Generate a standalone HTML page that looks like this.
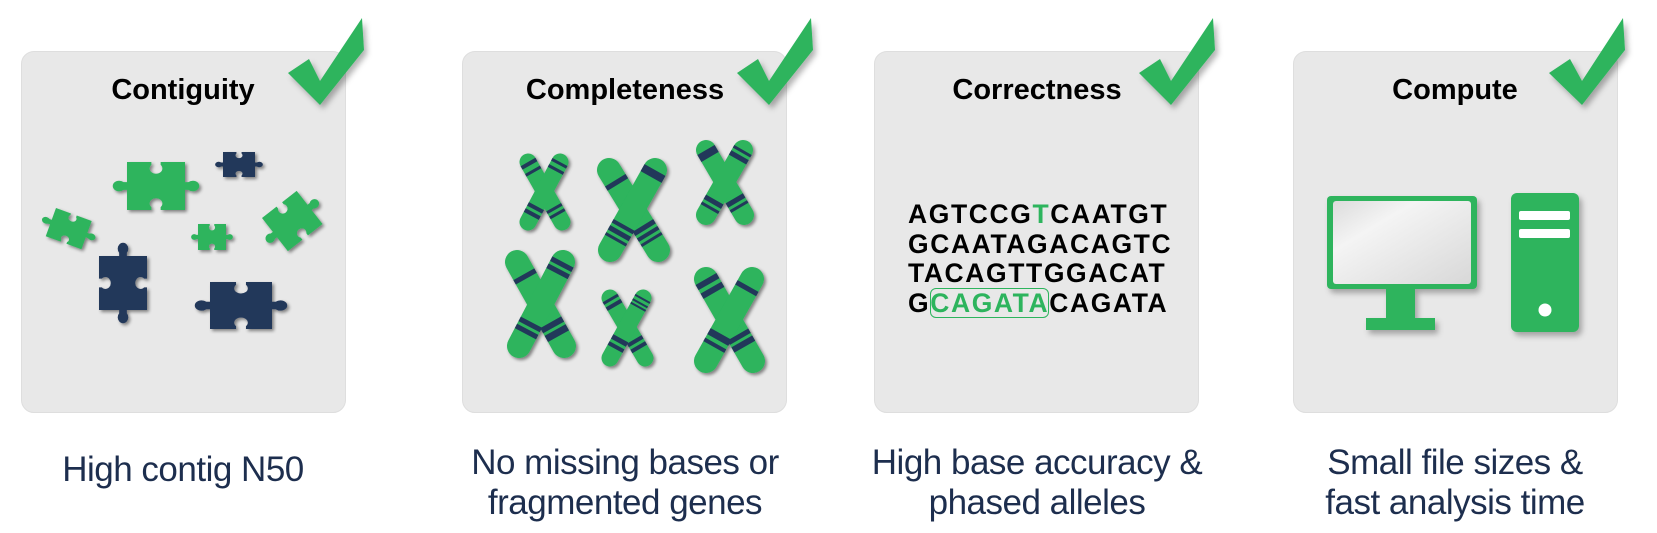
<!DOCTYPE html>
<html><head><meta charset="utf-8"><style>
html,body{margin:0;padding:0;background:#fff;}
body{width:1657px;height:533px;position:relative;overflow:hidden;font-family:"Liberation Sans",sans-serif;}
.box{position:absolute;top:51px;width:325px;height:362px;background:#e8e8e8;border:1px solid #dedede;border-radius:13px;box-sizing:border-box;}
.title{position:absolute;top:74px;font-weight:bold;font-size:29px;color:#000;text-align:center;width:300px;}
.cap{position:absolute;font-size:35px;color:#1d2e4e;text-align:center;width:400px;line-height:40px;letter-spacing:-0.5px;}
svg{position:absolute;left:0;top:0;}
.seq{position:absolute;left:908px;top:200px;font-weight:bold;font-size:26.5px;line-height:29.5px;letter-spacing:1.6px;color:#000;}
</style></head><body>
<div class="box" style="left:21px"></div>
<div class="box" style="left:462px"></div>
<div class="box" style="left:874px"></div>
<div class="box" style="left:1293px"></div>

<div class="title" style="left:33px">Contiguity</div>
<div class="title" style="left:475px">Completeness</div>
<div class="title" style="left:887px">Correctness</div>
<div class="title" style="left:1305px">Compute</div>

<div class="cap" style="left:-17px;top:450px">High contig N50</div>
<div class="cap" style="left:425px;top:443px">No missing bases or<br>fragmented genes</div>
<div class="cap" style="left:837px;top:443px">High base accuracy &amp;<br>phased alleles</div>
<div class="cap" style="left:1255px;top:443px">Small file sizes &amp;<br>fast analysis time</div>

<div class="seq">AGTCCG<span style="color:#2db45d">T</span>CAATGT<br>GCAATAGACAGTC<br>TACAGTTGGACAT<br>G<span style="color:#2db45d;outline:1.5px solid #2db45d;outline-offset:-1px;border-radius:6px">CAGATA</span>CAGATA</div>

<svg width="1657" height="533" viewBox="0 0 1657 533">
<defs>
<filter id="sh" x="-30%" y="-30%" width="160%" height="160%"><feDropShadow dx="2" dy="2" stdDeviation="1.5" flood-color="#000" flood-opacity="0.45"/></filter>
<filter id="sh2" x="-30%" y="-30%" width="160%" height="160%"><feDropShadow dx="3" dy="4" stdDeviation="3" flood-color="#000" flood-opacity="0.3"/></filter>
<path id="pz" d="M0,0 H42 L42,6 A11,11 0 1 0 58,6 L58,0 H100 V42 L106,42 A11,11 0 1 1 106,58 L100,58 V100 H58 L58,94 A11,11 0 1 0 42,94 L42,100 H0 V58 L-6,58 A11,11 0 1 1 -6,42 L0,42 Z"/>
</defs>

<g fill="#2db45d" filter="url(#sh2)">
<polygon points="288,73 309,59 320,81 362,18 364,50 320,105"/>
<polygon points="737,73 758,59 769,81 811,18 813,50 769,105"/>
<polygon points="1139,73 1160,59 1171,81 1213,18 1215,50 1171,105"/>
<polygon points="1549,73 1570,59 1582,81 1623,18 1625,50 1582,105"/>
</g>

<g filter="url(#sh)">
<use href="#pz" fill="#2db45d" transform="translate(127,162) scale(0.58,0.48)"/>
<use href="#pz" fill="#22375a" transform="translate(223,152) scale(0.32,0.25)"/>
<use href="#pz" fill="#2db45d" transform="translate(56,208) rotate(20) scale(0.38,0.3)"/>
<use href="#pz" fill="#2db45d" transform="translate(198,224) scale(0.28,0.26)"/>
<use href="#pz" fill="#2db45d" transform="translate(262,218) rotate(-38) scale(0.44,0.42)"/>
<use href="#pz" fill="#22375a" transform="translate(147,256) rotate(90) scale(0.54,0.48)"/>
<use href="#pz" fill="#22375a" transform="translate(210,282) scale(0.62,0.47)"/>
</g>

<g filter="url(#sh)" stroke-linecap="round">
<g transform="translate(545,192)">
 <line x1="-17" y1="-30" x2="17" y2="30" stroke="#2db45d" stroke-width="17"/>
 <line x1="15" y1="-30" x2="-17" y2="30" stroke="#2db45d" stroke-width="17"/>
 <line x1="-17" y1="-30" x2="17" y2="30" stroke="#22375a" stroke-width="17" stroke-linecap="butt" stroke-dasharray="4 5 3 40 3 3 3 40"/>
 <line x1="15" y1="-30" x2="-17" y2="30" stroke="#22375a" stroke-width="17" stroke-linecap="butt" stroke-dasharray="3 4 3 40 4 3 4 40"/>
</g>
<g transform="translate(634,210)">
 <line x1="-25" y1="-40" x2="24" y2="40" stroke="#2db45d" stroke-width="24"/>
 <line x1="21" y1="-40" x2="-24" y2="40" stroke="#2db45d" stroke-width="24"/>
 <line x1="-25" y1="-40" x2="24" y2="40" stroke="#22375a" stroke-width="24" stroke-linecap="butt" stroke-dasharray="0 12 5 48 5 3 4 3 3 40"/>
 <line x1="21" y1="-40" x2="-24" y2="40" stroke="#22375a" stroke-width="24" stroke-linecap="butt" stroke-dasharray="8 55 4 3 5 3 3 40"/>
</g>
<g transform="translate(725,183)">
 <line x1="-19" y1="-33" x2="19" y2="32" stroke="#2db45d" stroke-width="20"/>
 <line x1="18" y1="-33" x2="-19" y2="32" stroke="#2db45d" stroke-width="20"/>
 <line x1="-19" y1="-33" x2="19" y2="32" stroke="#22375a" stroke-width="20" stroke-linecap="butt" stroke-dasharray="8 48 5 3 3 40"/>
 <line x1="18" y1="-33" x2="-19" y2="32" stroke="#22375a" stroke-width="20" stroke-linecap="butt" stroke-dasharray="3 3 5 46 5 3 3 40"/>
</g>
<g transform="translate(541,304)">
 <line x1="-24" y1="-42" x2="23" y2="42" stroke="#2db45d" stroke-width="24"/>
 <line x1="22" y1="-42" x2="-22" y2="42" stroke="#2db45d" stroke-width="24"/>
 <line x1="-24" y1="-42" x2="23" y2="42" stroke="#22375a" stroke-width="24" stroke-linecap="butt" stroke-dasharray="0 14 5 50 6 3 7 40"/>
 <line x1="22" y1="-42" x2="-22" y2="42" stroke="#22375a" stroke-width="24" stroke-linecap="butt" stroke-dasharray="5 3 5 55 5 3 5 40"/>
</g>
<g transform="translate(627,328)">
 <line x1="-17" y1="-30" x2="18" y2="30" stroke="#2db45d" stroke-width="17"/>
 <line x1="16" y1="-30" x2="-17" y2="30" stroke="#2db45d" stroke-width="17"/>
 <line x1="-17" y1="-30" x2="18" y2="30" stroke="#22375a" stroke-width="17" stroke-linecap="butt" stroke-dasharray="3 3 4 38 4 3 4 40"/>
 <line x1="16" y1="-30" x2="-17" y2="30" stroke="#22375a" stroke-width="17" stroke-linecap="butt" stroke-dasharray="2 3 2 2 2 35 5 3 4 40"/>
</g>
<g transform="translate(729,320)">
 <line x1="-23" y1="-41" x2="24" y2="41" stroke="#2db45d" stroke-width="24"/>
 <line x1="23" y1="-41" x2="-23" y2="41" stroke="#2db45d" stroke-width="24"/>
 <line x1="-23" y1="-41" x2="24" y2="41" stroke="#22375a" stroke-width="24" stroke-linecap="butt" stroke-dasharray="6 4 6 48 5 3 6 40"/>
 <line x1="23" y1="-41" x2="-23" y2="41" stroke="#22375a" stroke-width="24" stroke-linecap="butt" stroke-dasharray="0 8 5 50 7 4 4 40"/>
</g>
</g>

<defs><linearGradient id="scr" x1="0" y1="0" x2="1" y2="1"><stop offset="0" stop-color="#dcdcdc"/><stop offset="0.3" stop-color="#f4f4f4"/><stop offset="1" stop-color="#d8d8d8"/></linearGradient></defs>
<g filter="url(#sh2)">
<rect x="1327" y="196" width="150" height="93" rx="4" fill="#2db45d"/>
<rect x="1333" y="201" width="138" height="83" rx="3" fill="url(#scr)"/>
<rect x="1386" y="288" width="29" height="30" fill="#2db45d"/>
<rect x="1366" y="318" width="69" height="12" fill="#2db45d"/>
<rect x="1511" y="193" width="68" height="139" rx="6" fill="#2db45d"/>
</g>
<rect x="1519" y="211" width="51" height="9" rx="2" fill="#fff"/>
<rect x="1519" y="229" width="51" height="9" rx="2" fill="#fff"/>
<circle cx="1545" cy="310" r="6.5" fill="#fff"/>
</svg>
</body></html>
